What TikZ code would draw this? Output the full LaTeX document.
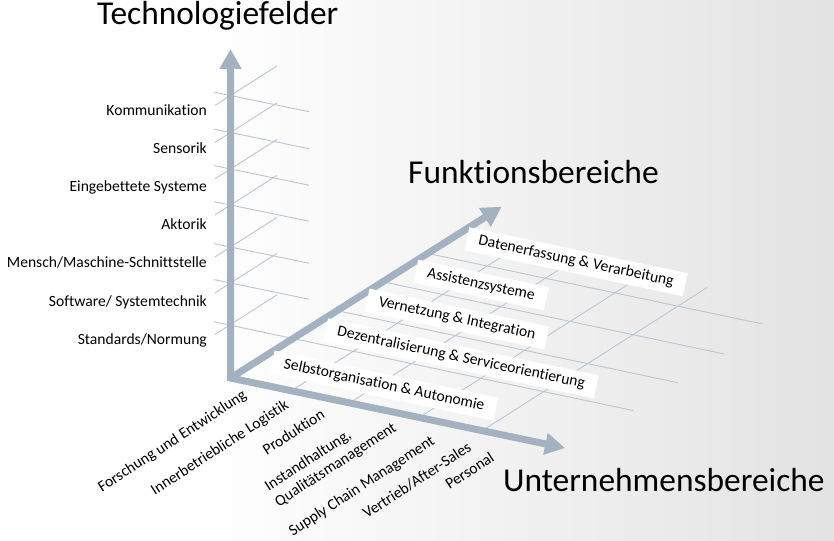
\documentclass[tikz,border=0pt]{standalone}
\usepackage{fontspec}
\setmainfont{Carlito}[Ligatures={NoCommon,NoRare}]
\usetikzlibrary{arrows.meta}
\definecolor{axisc}{HTML}{A3B1C0}
\definecolor{gridc}{HTML}{B9C6D5}
\begin{document}
\begin{tikzpicture}[x=1pt,y=-1pt,
  axis/.style={line width=7pt, draw=axisc, line join=miter},
  gridl/.style={draw=gridc, line width=0.9pt},
  lbl/.style={font=\fontsize{15.6}{18.5}\selectfont, inner sep=0pt},
  fbox/.style={fill=white, font=\fontsize{15.6}{18.5}\selectfont, rotate=-11.9,
    inner xsep=12pt, inner ysep=4.5pt, text height=11pt, text depth=3.5pt},
  ulbl/.style={font=\fontsize{15.6}{18.5}\selectfont, rotate=33, inner sep=0pt},
  title/.style={font=\fontsize{33.4}{40}\selectfont, inner sep=0pt, anchor=base west}]
\useasboundingbox (0,0) rectangle (834,540);
% background
\fill[white] (0,0) rectangle (201,540);
\shade[left color=white, right color=black!11] (200,0) rectangle (834,540);

% grid of the vertical plane
\foreach \L in {95.5,132.5,169,205,247,283} {
  \draw[gridl] (214,{\L-3.4}) -- (309,{\L+16.2});
}
\foreach \L in {95.5,132.5,169,205,247,283,324.5} {
  \draw[gridl] (215,{\L+9.9}) -- (277,{\L-29.6});
}
% floor grid, lines along Unternehmensbereiche
\draw[gridl] (214,321.8) -- (633.5,410.6);
\draw[gridl] (336.5,310.5) -- (677.7,382.7);
\draw[gridl] (381.9,281.6) -- (724.3,354);
\draw[gridl] (426.6,253.2) -- (762.7,324);
% floor grid, lines along Funktionsbereiche
\draw[gridl] (291.5,390.6) -- (515.5,248);
\draw[gridl] (350,402.7) -- (574,260.1);
\draw[gridl] (419.8,417.1) -- (643.8,274.5);
\draw[gridl] (483,430.2) -- (707,287.6);

% axes
\coordinate (O) at (230.5,378);
\coordinate (vtip) at (230.5,49);
\coordinate (utip) at (565,448);
\coordinate (ftip) at (501.7,206.7);
\draw[axis, {Triangle[length=20pt,width=21pt]}-{Triangle[length=20pt,width=21pt]}] (vtip) -- (O) -- (utip);
\draw[axis, -{Triangle[length=20pt,width=21pt]}] (O) -- (ftip);

% titles
\node[title] (t1) at (97,25) {Technologiefelder};
\node[title] (t2) at (408,183) {Funktionsbereiche};
\node[title] (t3) at (503,491.7) {Unternehmensbereiche};

% Technologiefelder labels
\node[lbl, anchor=base east] (k1) at (207,115.5) {Kommunikation};
\node[lbl, anchor=base east] (k2) at (207,153.6) {Sensorik};
\node[lbl, anchor=base east] (k3) at (207,191.7) {Eingebettete Systeme};
\node[lbl, anchor=base east] (k4) at (207,229.8) {Aktorik};
\node[lbl, anchor=base east] (k5) at (207,267.9) {Mensch/Maschine-Schnittstelle};
\node[lbl, anchor=base east] (k6) at (207,306) {Software/ Systemtechnik};
\node[lbl, anchor=base east] (k7) at (207,344.1) {Standards/Normung};

% Funktionsbereiche boxes
\node[fbox] (f1) at (576,261.7) {Datenerfassung \& Verarbeitung};
\node[fbox] (f2) at (481,285) {Assistenzsysteme};
\node[fbox] (f3) at (457,319) {Vernetzung \& Integration};
\node[fbox] (f4) at (461,358.3) {Dezentralisierung \& Serviceorientierung};
\node[fbox] (f5) at (384,385.6) {Selbstorganisation \& Autonomie};

% Unternehmensbereiche labels
\node[ulbl] (u1) at (172.5,441.7) {Forschung und Entwicklung};
\node[ulbl] (u2) at (220,448.3) {Innerbetriebliche Logistik};
\node[ulbl] (u3) at (293.3,431.8) {Produktion};
\node[ulbl, align=left] (u4) at (330.9,457.4) {Instandhaltung,\\Qualitätsmanagement};
\node[ulbl] (u5) at (362,486.5) {Supply Chain Management};
\node[ulbl] (u6) at (416.8,480.3) {Vertrieb/After-Sales};
\node[ulbl] (u7) at (469.5,470.5) {Personal};
\end{tikzpicture}
\end{document}
